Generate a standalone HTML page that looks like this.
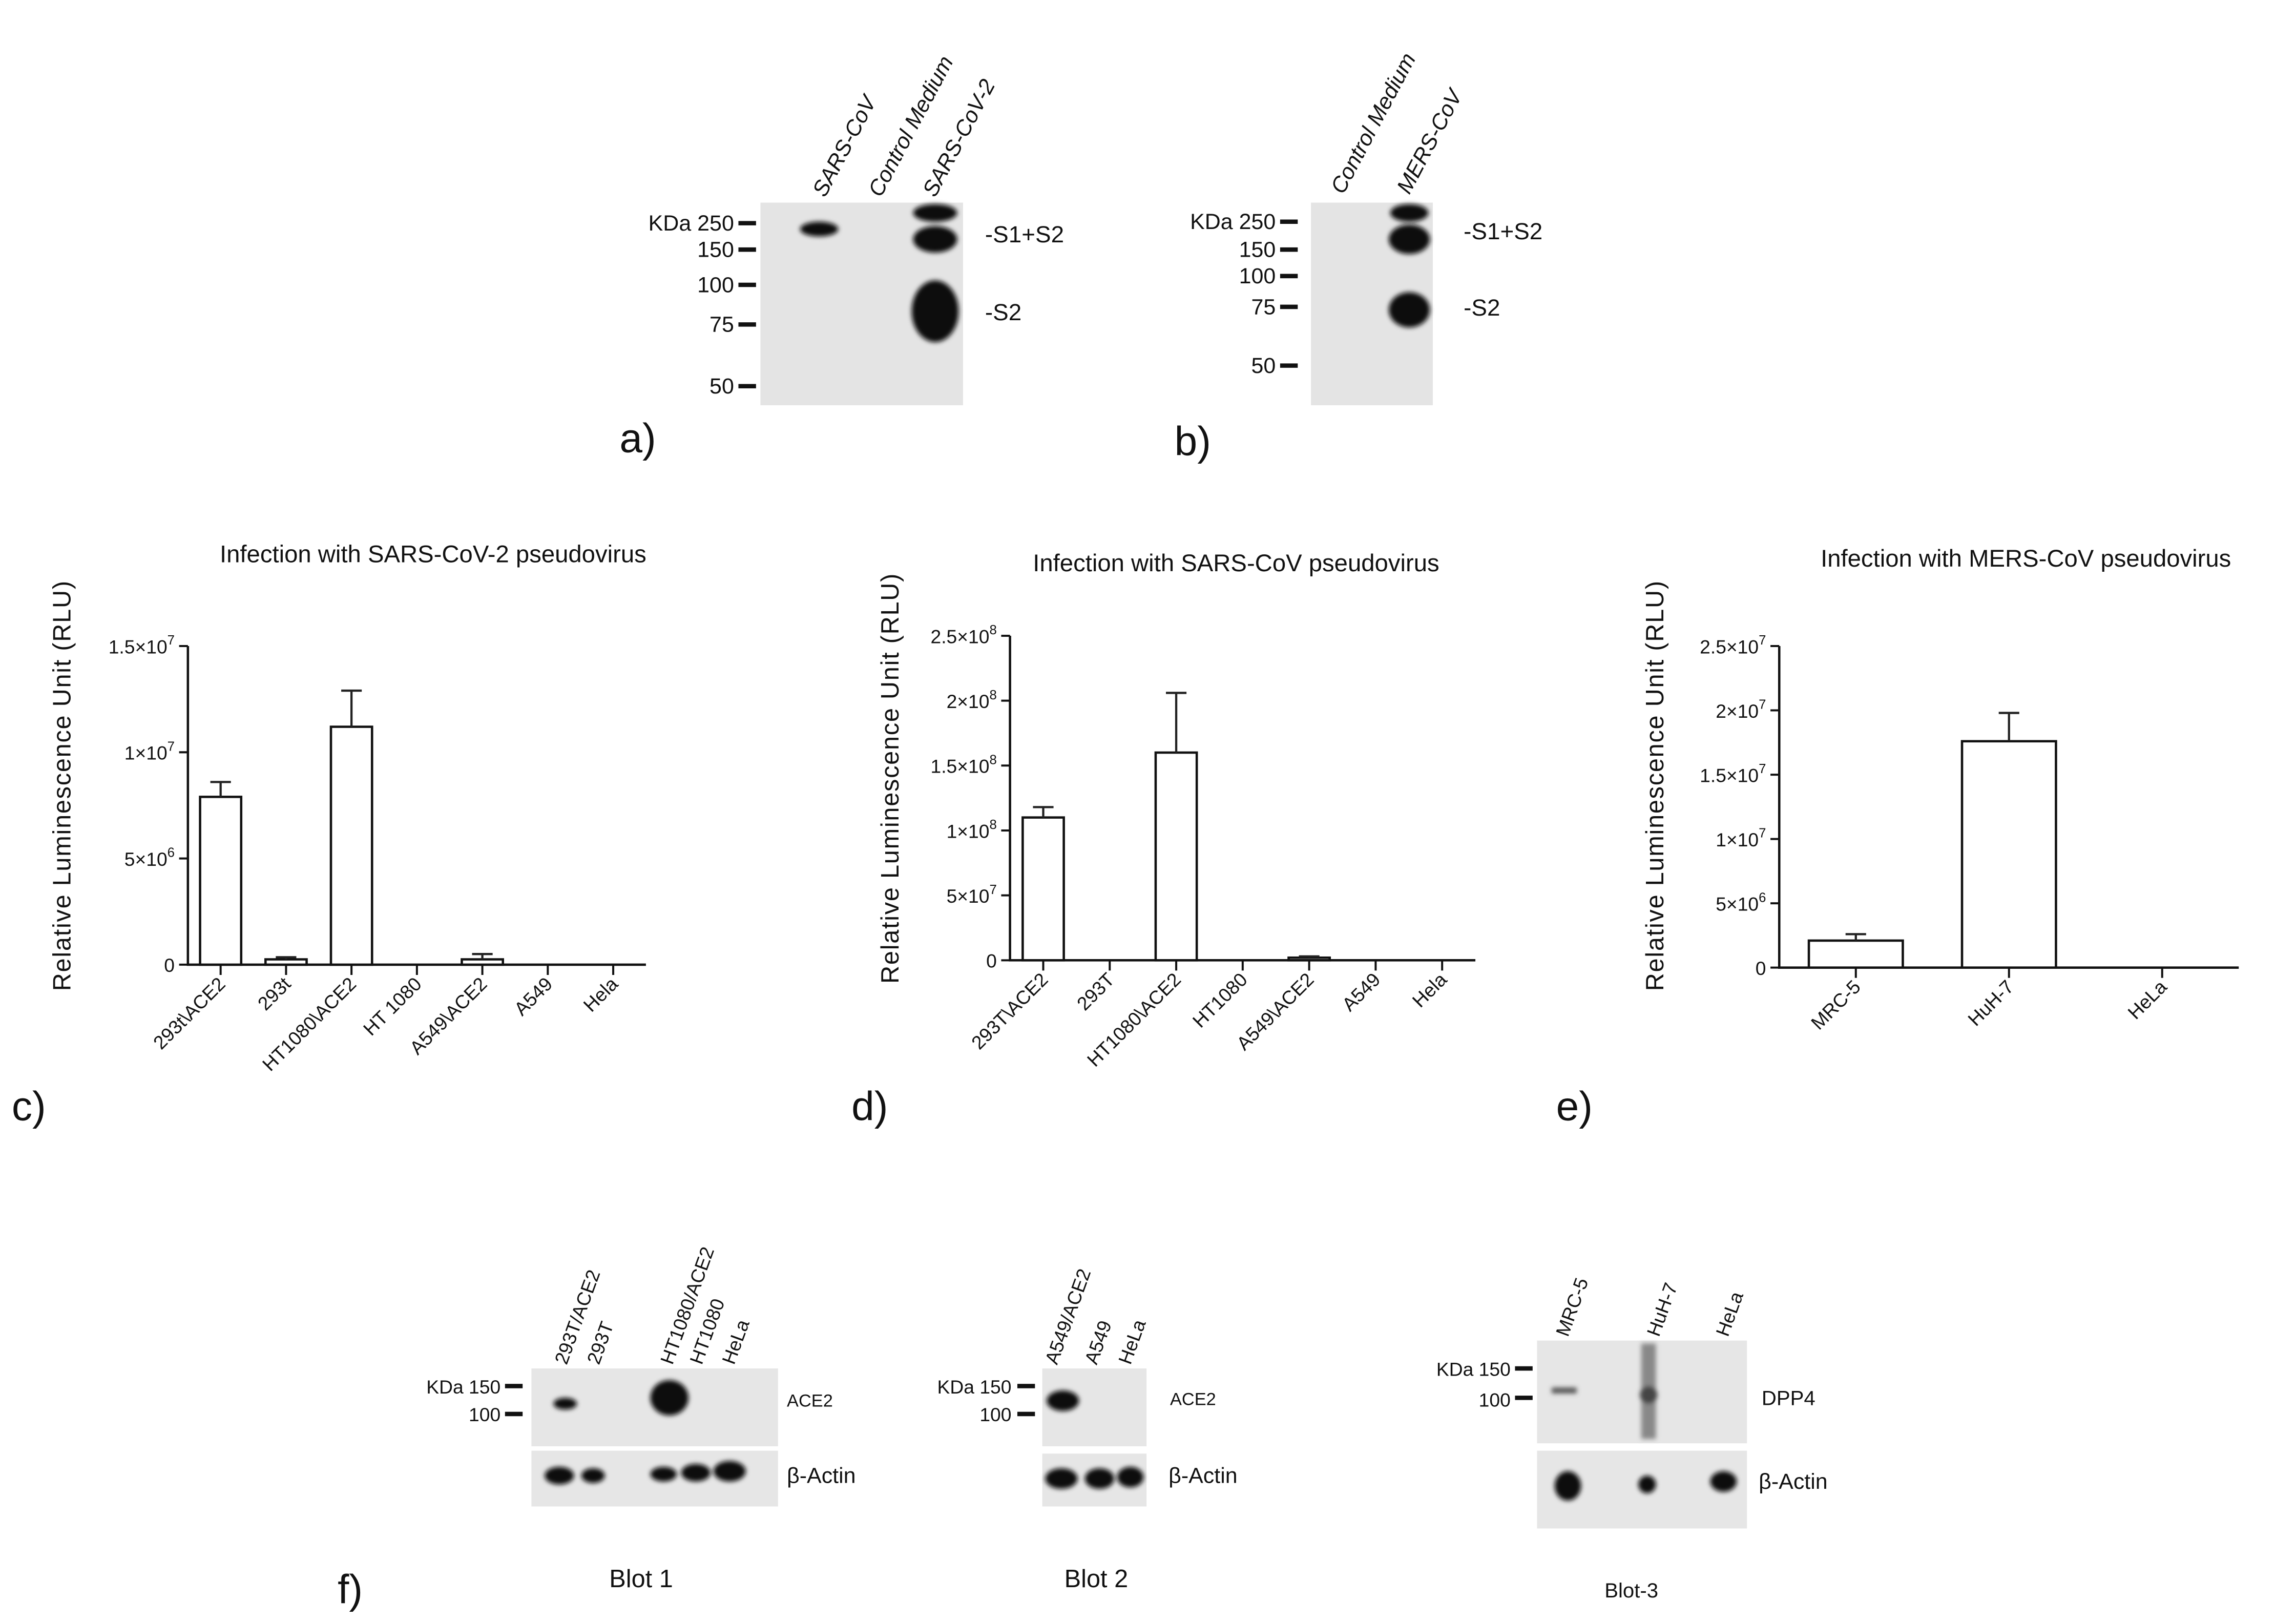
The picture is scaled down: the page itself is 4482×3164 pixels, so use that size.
<!DOCTYPE html>
<html><head><meta charset="utf-8">
<style>
html,body{margin:0;padding:0;background:#fff;}
svg{display:block;}
text{font-family:"Liberation Sans",Arial,sans-serif;fill:#111;}
</style></head>
<body>
<svg id="fig" width="4482" height="3164" viewBox="0 0 1564 1104" preserveAspectRatio="none" xmlns="http://www.w3.org/2000/svg">
<defs>
<filter id="blur1" x="-50%" y="-50%" width="200%" height="200%"><feGaussianBlur stdDeviation="1.6"/></filter>
</defs>

<!-- Panel a -->
<g>
<rect x="518" y="138" width="138" height="138" fill="#e4e4e4"/>
<g font-size="15" text-anchor="end">
<text x="500" y="157">KDa 250</text><text x="500" y="175">150</text><text x="500" y="199">100</text><text x="500" y="226">75</text><text x="500" y="268">50</text>
</g>
<g stroke="#111" stroke-width="3">
<line x1="503" y1="152" x2="515" y2="152"/><line x1="503" y1="170" x2="515" y2="170"/><line x1="503" y1="194" x2="515" y2="194"/><line x1="503" y1="221" x2="515" y2="221"/><line x1="503" y1="263" x2="515" y2="263"/>
</g>
<g font-size="15" font-style="italic">
<text transform="translate(562,135) rotate(-62)">SARS-CoV</text>
<text transform="translate(600,135) rotate(-62)">Control Medium</text>
<text transform="translate(637,135) rotate(-62)">SARS-CoV-2</text>
</g>
<g filter="url(#blur1)" fill="#111">
<ellipse cx="558" cy="156" rx="13" ry="5"/>
<ellipse cx="637" cy="145" rx="15" ry="6"/>
<ellipse cx="637" cy="163" rx="15" ry="9"/>
<ellipse cx="637" cy="212" rx="16" ry="21"/>
</g>
<g font-size="16"><text x="671" y="165">-S1+S2</text><text x="671" y="218">-S2</text></g>
<text x="422" y="308" font-size="28">a)</text>
</g>

<!-- Panel b -->
<g>
<rect x="893" y="138" width="83" height="138" fill="#e4e4e4"/>
<g font-size="15" text-anchor="end">
<text x="869" y="156">KDa 250</text><text x="869" y="175">150</text><text x="869" y="193">100</text><text x="869" y="214">75</text><text x="869" y="254">50</text>
</g>
<g stroke="#111" stroke-width="3">
<line x1="872" y1="151" x2="884" y2="151"/><line x1="872" y1="170" x2="884" y2="170"/><line x1="872" y1="188" x2="884" y2="188"/><line x1="872" y1="209" x2="884" y2="209"/><line x1="872" y1="249" x2="884" y2="249"/>
</g>
<g font-size="15" font-style="italic">
<text transform="translate(915,133) rotate(-62)">Control Medium</text>
<text transform="translate(960,133) rotate(-62)">MERS-CoV</text>
</g>
<g filter="url(#blur1)" fill="#111">
<ellipse cx="960" cy="145" rx="13" ry="6"/>
<ellipse cx="960" cy="163" rx="14" ry="10"/>
<ellipse cx="960" cy="211" rx="14" ry="12"/>
</g>
<g font-size="16"><text x="997" y="163">-S1+S2</text><text x="997" y="215">-S2</text></g>
<text x="800" y="310" font-size="28">b)</text>
</g>

<g id="charts"></g>

<!-- Panel f -->
<g>
<g>
<rect x="362" y="932" width="168" height="53" fill="#e6e6e6"/>
<rect x="362" y="988" width="168" height="38" fill="#e6e6e6"/>
<g font-size="13" text-anchor="end"><text x="341" y="949">KDa 150</text><text x="341" y="968">100</text></g>
<g stroke="#111" stroke-width="3"><line x1="344" y1="944" x2="356" y2="944"/><line x1="344" y1="963" x2="356" y2="963"/></g>
<g font-size="13">
<text transform="translate(386,930) rotate(-70)">293T/ACE2</text>
<text transform="translate(408,930) rotate(-70)">293T</text>
<text transform="translate(458,930) rotate(-70)">HT1080/ACE2</text>
<text transform="translate(478,930) rotate(-70)">HT1080</text>
<text transform="translate(500,930) rotate(-70)">HeLa</text>
</g>
<g filter="url(#blur1)" fill="#111">
<ellipse cx="385" cy="956" rx="8" ry="4"/>
<ellipse cx="456" cy="952" rx="13" ry="12"/>
<ellipse cx="381" cy="1005" rx="10" ry="6"/>
<ellipse cx="404" cy="1005" rx="8" ry="5"/>
<ellipse cx="452" cy="1004" rx="9" ry="5"/>
<ellipse cx="474" cy="1003" rx="10" ry="6"/>
<ellipse cx="497" cy="1002" rx="11" ry="7"/>
</g>
<text x="536" y="958" font-size="12">ACE2</text>
<text x="536" y="1010" font-size="15">β-Actin</text>
<text x="415" y="1081" font-size="17">Blot 1</text>
</g>
<g>
<rect x="710" y="932" width="71" height="53" fill="#e6e6e6"/>
<rect x="710" y="990" width="71" height="36" fill="#e6e6e6"/>
<g font-size="13" text-anchor="end"><text x="689" y="949">KDa 150</text><text x="689" y="968">100</text></g>
<g stroke="#111" stroke-width="3"><line x1="693" y1="944" x2="705" y2="944"/><line x1="693" y1="963" x2="705" y2="963"/></g>
<g font-size="13">
<text transform="translate(720,930) rotate(-70)">A549/ACE2</text>
<text transform="translate(747,930) rotate(-70)">A549</text>
<text transform="translate(770,930) rotate(-70)">HeLa</text>
</g>
<g filter="url(#blur1)" fill="#111">
<ellipse cx="724" cy="954" rx="11" ry="7"/>
<ellipse cx="723" cy="1007" rx="11" ry="7"/>
<ellipse cx="749" cy="1007" rx="10" ry="7"/>
<ellipse cx="770" cy="1006" rx="9" ry="7"/>
</g>
<text x="797" y="957" font-size="12">ACE2</text>
<text x="796" y="1010" font-size="15">β-Actin</text>
<text x="725" y="1081" font-size="17">Blot 2</text>
</g>
<g>
<rect x="1047" y="913" width="143" height="70" fill="#e6e6e6"/>
<rect x="1047" y="988" width="143" height="53" fill="#e6e6e6"/>
<g font-size="13" text-anchor="end"><text x="1029" y="937">KDa 150</text><text x="1029" y="958">100</text></g>
<g stroke="#111" stroke-width="3"><line x1="1032" y1="932" x2="1044" y2="932"/><line x1="1032" y1="952" x2="1044" y2="952"/></g>
<g font-size="13">
<text transform="translate(1068,911) rotate(-70)">MRC-5</text>
<text transform="translate(1130,911) rotate(-70)">HuH-7</text>
<text transform="translate(1177,911) rotate(-70)">HeLa</text>
</g>
<g filter="url(#blur1)" fill="#555">
<rect x="1057" y="945" width="17" height="4"/>
<rect x="1118" y="915" width="10" height="65" fill="#888"/>
<ellipse cx="1123" cy="950" rx="6" ry="6" fill="#444"/>
</g>
<g filter="url(#blur1)" fill="#111">
<ellipse cx="1068" cy="1012" rx="9" ry="10"/>
<ellipse cx="1122" cy="1011" rx="6" ry="6"/>
<ellipse cx="1174" cy="1009" rx="9" ry="7"/>
</g>
<text x="1200" y="957" font-size="14">DPP4</text>
<text x="1198" y="1014" font-size="15">β-Actin</text>
<text x="1093" y="1088" font-size="14">Blot-3</text>
</g>
<text x="230" y="1092" font-size="28">f)</text>
</g>
</svg>

<script>
// ---- Chart c data ----
const cCategories = ["293t\\ACE2","293t","HT1080\\ACE2","HT 1080","A549\\ACE2","A549","Hela"];
const cValues = [7.9e6, 0.25e6, 11.2e6, 0, 0.25e6, 0, 0];
const cErrors = [0.7e6, 0.1e6, 1.7e6, 0, 0.25e6, 0, 0];
const cTicks = [0, 5e6, 1e7, 1.5e7];
const cTickLabels = [["0",""],["5×10","6"],["1×10","7"],["1.5×10","7"]];
// ---- Chart d data ----
const dCategories = ["293T\\ACE2","293T","HT1080\\ACE2","HT1080","A549\\ACE2","A549","Hela"];
const dValues = [1.1e8, 0, 1.6e8, 0, 0.02e8, 0, 0];
const dErrors = [0.08e8, 0, 0.46e8, 0, 0.01e8, 0, 0];
const dTicks = [0, 5e7, 1e8, 1.5e8, 2e8, 2.5e8];
const dTickLabels = [["0",""],["5×10","7"],["1×10","8"],["1.5×10","8"],["2×10","8"],["2.5×10","8"]];
// ---- Chart e data ----
const eCategories = ["MRC-5","HuH-7","HeLa"];
const eValues = [2.1e6, 17.6e6, 0];
const eErrors = [0.5e6, 2.2e6, 0];
const eTicks = [0, 5e6, 1e7, 1.5e7, 2e7, 2.5e7];
const eTickLabels = [["0",""],["5×10","6"],["1×10","7"],["1.5×10","7"],["2×10","7"],["2.5×10","7"]];

const NS = "http://www.w3.org/2000/svg";
const root = document.getElementById("charts");
function mk(tag, attrs, parent){
  const e = document.createElementNS(NS, tag);
  for (const k in attrs) e.setAttribute(k, attrs[k]);
  (parent||root).appendChild(e);
  return e;
}
function chart(o){
  const g = mk("g", {});
  
  
  const ymax = o.ticks[o.ticks.length-1];
  const y = v => o.y0 - (v/ymax)*(o.y0-o.y1);
  const step = (o.x1 - o.x0)/o.cats.length;
  const xc = i => o.x0 + step*(i+0.5);
  const t = mk("text", {x:o.titleX, y:o.titleY, "font-size":16.5, "text-anchor":"middle"}, g);
  t.textContent = o.title;
  
  
  const yl = mk("text", {transform:`translate(${o.ylX},${o.ylY}) rotate(-90)`, "font-size":17, "text-anchor":"middle", "letter-spacing":"0.6"}, g);
  yl.textContent = "Relative Luminescence Unit (RLU)";
  
  
  const ax = mk("path", {d:`M${o.x0},${o.y1} V${o.y0} H${o.x1}`, stroke:"#111", "stroke-width":1.6, fill:"none"}, g);
  
  
  o.ticks.forEach((tv,i)=>{
    const yy = y(tv);
    mk("line", {x1:o.x0-6, x2:o.x0, y1:yy, y2:yy, stroke:"#111", "stroke-width":1.4}, g);
    const tl = mk("text", {x:o.x0-9, y:yy+5, "font-size":13, "text-anchor":"end", fill:"#333"}, g);
    
    
    tl.textContent = o.tickLabels[i][0];
    if (o.tickLabels[i][1]){
      const s = mk("tspan", {dy:-6, "font-size":9}, tl);
      s.textContent = o.tickLabels[i][1];
    }
  });
  o.cats.forEach((c,i)=>{
    const cx = xc(i);
    mk("line", {x1:cx, x2:cx, y1:o.y0, y2:o.y0+7, stroke:"#111", "stroke-width":1.4}, g);
    const cl = mk("text", {transform:`translate(${cx+4},${o.y0+14}) rotate(-45)`, "font-size":13, "text-anchor":"end", fill:"#333"}, g);
    cl.textContent = c;
    
    
    const v = o.vals[i];
    if (v > 0){
      const top = y(v);
      const b = mk("rect", {x:cx-o.bw/2, y:top, width:o.bw, height:o.y0-top, fill:"#fff", stroke:"#111", "stroke-width":1.6}, g);
      
      
      const et = y(v + o.errs[i]);
      const e = mk("path", {d:`M${cx},${top} V${et} M${cx-7},${et} H${cx+7}`, stroke:"#222", "stroke-width":1.5, fill:"none"}, g);
      
      
    }
  });
  const pl = mk("text", {x:o.plX, y:o.plY, "font-size":28}, g);
  pl.textContent = o.panel;
  
  
}
chart({name:"chart-c", title:"Infection with SARS-CoV-2 pseudovirus", titleX:295, titleY:383,
  x0:128, x1:440, y0:657, y1:440, bw:28, cats:cCategories, vals:cValues, errs:cErrors,
  ticks:cTicks, tickLabels:cTickLabels, ylX:48, ylY:535, panel:"c)", plX:8, plY:763});
chart({name:"chart-d", title:"Infection with SARS-CoV pseudovirus", titleX:842, titleY:389,
  x0:688, x1:1005, y0:654, y1:433, bw:28, cats:dCategories, vals:dValues, errs:dErrors,
  ticks:dTicks, tickLabels:dTickLabels, ylX:612, ylY:530, panel:"d)", plX:580, plY:763});
chart({name:"chart-e", title:"Infection with MERS-CoV pseudovirus", titleX:1380, titleY:386,
  x0:1212, x1:1525, y0:659, y1:440, bw:64, cats:eCategories, vals:eValues, errs:eErrors,
  ticks:eTicks, tickLabels:eTickLabels, ylX:1133, ylY:535, panel:"e)", plX:1060, plY:763});
</script>
</body></html>
